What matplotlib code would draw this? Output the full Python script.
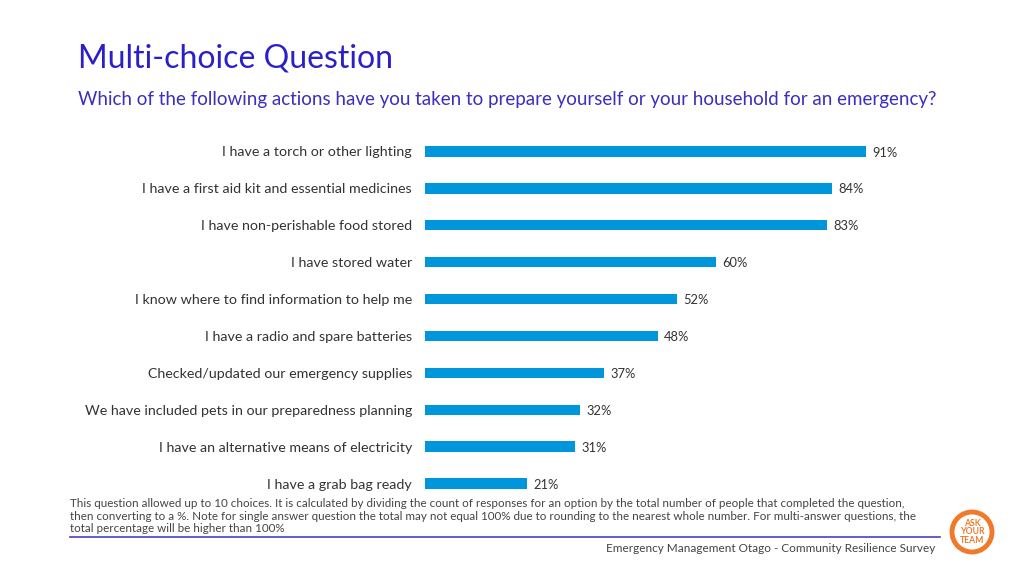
import matplotlib
matplotlib.use("Agg")
import matplotlib.pyplot as plt
from matplotlib.patches import Circle
from matplotlib.lines import Line2D

categories = [
    "I have a torch or other lighting",
    "I have a first aid kit and essential medicines",
    "I have non-perishable food stored",
    "I have stored water",
    "I know where to find information to help me",
    "I have a radio and spare batteries",
    "Checked/updated our emergency supplies",
    "We have included pets in our preparedness planning",
    "I have an alternative means of electricity",
    "I have a grab bag ready",
]
values = [91, 84, 83, 60, 52, 48, 37, 32, 31, 21]
value_labels = [f"{v}%" for v in values]

title = "Multi-choice Question"
subtitle = "Which of the following actions have you taken to prepare yourself or your household for an emergency?"
footnote = ("This question allowed up to 10 choices. It is calculated by dividing the count of responses for an option by the total number of people that completed the question,\n"
            "then converting to a %. Note for single answer question the total may not equal 100% due to rounding to the nearest whole number. For multi-answer questions, the\n"
            "total percentage will be higher than 100%")
footer = "Emergency Management Otago - Community Resilience Survey"

FONT = ["Lato", "DejaVu Sans"]
plt.rcParams['font.family'] = FONT

W, H = 1024, 576
fig = plt.figure(figsize=(W / 100, H / 100), dpi=100)
fig.patch.set_facecolor("white")

def fx(px):
    return px / W

def fy(py):
    return 1 - py / H

ax = fig.add_axes([fx(425), fy(502), 484.6 / W, 369 / H])
ypos = list(range(len(categories)))
ax.barh(ypos, values, height=0.28, color="#0096dc")
ax.set_xlim(0, 100)
ax.set_ylim(len(categories) - 0.5, -0.5)
ax.set_yticks(ypos)
ax.set_yticklabels(categories, fontsize=10.3, color="#333333")
ax.tick_params(axis="y", length=0, pad=9.4)
ax.set_xticks([])
for s in ax.spines.values():
    s.set_visible(False)
for y, v, lab in zip(ypos, values, value_labels):
    ax.text(v + 1.3, y + 0.03, lab, va="center", ha="left", fontsize=9.3, color="#333333")

fig.text(fx(78), fy(58), title, fontsize=23, color="#2a1fc8", va="center", ha="left")
fig.text(fx(78), fy(100), subtitle, fontsize=13.5, color="#3a2fc0", va="center", ha="left")

fig.text(fx(70), fy(516), footnote, fontsize=8.35, color="#444444", va="center", ha="left",
         linespacing=1.12)
fig.add_artist(Line2D([fx(70), fx(940)], [fy(537), fy(537)], color="#4a3fc8", lw=1.2))
fig.text(fx(935), fy(548), footer, fontsize=8.5, color="#444444", va="center", ha="right")

# logo
fig.add_artist(Circle((972, H - 532), 20, transform=None, fill=False, edgecolor="#f07a2a", lw=3.5))
fig.text(fx(972), fy(532), "ASK\nYOUR\nTEAM", fontsize=6.2, color="#f07a2a", fontweight="bold",
         ha="center", va="center", linespacing=0.9)

fig.savefig("out.png", dpi=100)
